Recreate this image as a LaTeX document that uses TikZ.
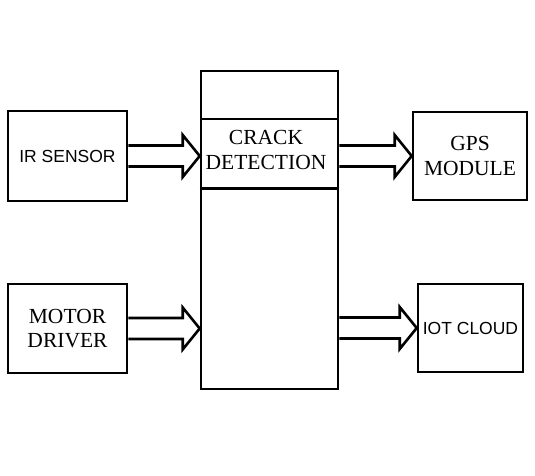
\documentclass[tikz,border=0pt]{standalone}
\usepackage{fontspec}
\setmainfont{Liberation Serif}
\newfontfamily\arialf{Liberation Sans}
\usetikzlibrary{calc}
\tikzset{
  blk/.style={draw, line width=2.6pt, inner sep=0pt, align=center},
  serifl/.style={font=\fontsize{21.5}{24.5}\selectfont},
  sansl/.style={font=\arialf\fontsize{17.5}{21}\selectfont},
  barrow/.style={line width=2.6pt, line join=miter},
}
% #1 source node, #2 target node, #3 node giving the arrow's centre height
\newcommand\blockarr[3]{%
  \draw[barrow] ($(#1.east |- #3.center)+(0,-10.5)$)
     -- ($(#2.west |- #3.center)+(-17,-10.5)$)
     -- ($(#2.west |- #3.center)+(-17,-21)$)
     -- (#2.west |- #3.center)
     -- ($(#2.west |- #3.center)+(-17,21)$)
     -- ($(#2.west |- #3.center)+(-17,10.5)$)
     -- ($(#1.east |- #3.center)+(0,10.5)$);}
\begin{document}
\begin{tikzpicture}[x=1pt,y=-1pt]
\useasboundingbox (0,0) rectangle (535,476);
% central block
\node[blk, minimum width=137pt, minimum height=318pt] (ctrl) at (269.5,230) {};
\draw[line width=2.2pt] (ctrl.west |- 0,119) coordinate (d1l) -- (ctrl.east |- 0,119) coordinate (d1r);
\draw[line width=3pt] (ctrl.west |- 0,188) coordinate (d2l) -- (ctrl.east |- 0,188) coordinate (d2r);
\node[serifl, align=center] (crack) at (266,150) {CRACK\\DETECTION};
% side blocks
\node[blk, sansl, minimum width=119pt, minimum height=90pt] (ir) at (67.5,156) {IR SENSOR};
\node[blk, serifl, minimum width=119pt, minimum height=89pt] (motor) at (67.5,328.5) {MOTOR\\DRIVER};
\node[blk, serifl, minimum width=114pt, minimum height=88pt] (gps) at (470,156) {GPS\\MODULE};
\node[blk, sansl, minimum width=105pt, minimum height=88pt] (iot) at (470.5,328) {IOT CLOUD};
% block arrows
\blockarr{ir}{ctrl}{ir}
\blockarr{motor}{ctrl}{motor}
\blockarr{ctrl}{gps}{gps}
\blockarr{ctrl}{iot}{iot}
\end{tikzpicture}
\end{document}
